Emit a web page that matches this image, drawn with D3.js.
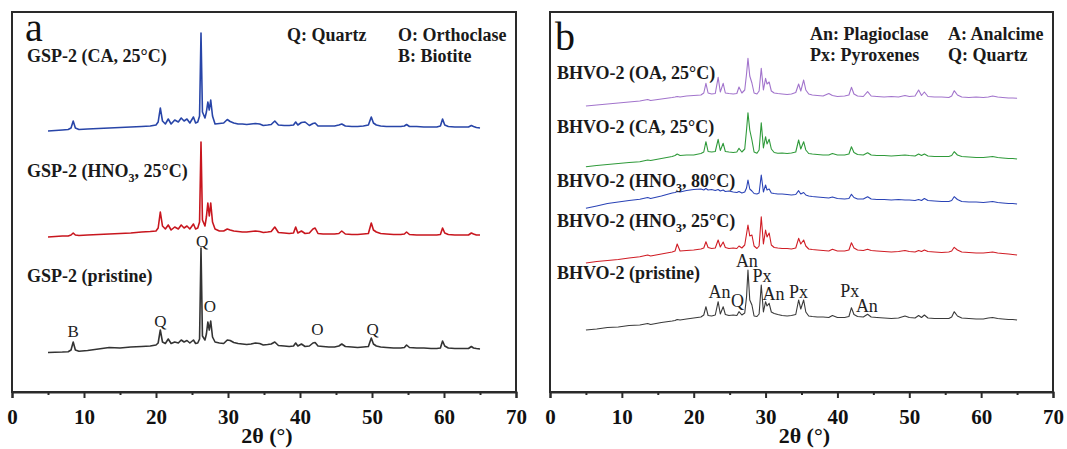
<!DOCTYPE html>
<html>
<head>
<meta charset="utf-8">
<script src="https://cdn.jsdelivr.net/npm/d3@7"></script>
<style>
body { margin: 0; background: #fff; }
svg text { font-family: "Liberation Serif", "Times New Roman", serif; }
</style>
</head>
<body>
<div id="container"></div>
<script>
// ---- data: panel a (GSP-2), intensities in a.u. incl. stacking offset ----
const thetaA = [
  5, 6, 7, 7.8, 8.2, 8.5, 8.8, 9.3, 10.5, 12,
  13.5, 15, 16.5, 18, 19.2, 20.0, 20.3, 20.6, 20.9, 21.3,
  21.7, 22.1, 22.6, 23.1, 23.5, 23.9, 24.3, 24.7, 25.2, 25.5,
  25.8, 26.05, 26.25, 26.45, 26.8, 27.0, 27.2, 27.4, 27.6, 27.85,
  28.2, 28.8, 29.4, 29.9, 30.3, 30.8, 31.4, 32.0, 32.6, 33.2,
  33.8, 34.4, 34.9, 35.5, 36.0, 36.5, 37.0, 37.8, 38.5, 39.1,
  39.4, 39.7, 40.2, 40.7, 41.3, 41.8, 42.1, 42.5, 43.2, 44.0,
  44.8, 45.4, 45.8, 46.3, 47.2, 48.0, 48.8, 49.5, 49.9, 50.2,
  50.6, 51.2, 52.0, 53.0, 54.0, 54.5, 54.8, 55.2, 56.2, 57.2,
  58.2, 59.0, 59.5, 59.8, 60.1, 60.6, 61.5, 62.5, 63.4, 63.8,
  64.1, 64.5, 65.0
];
const gspPristine = [
  39.5, 39.8, 40, 40.3, 42, 50, 42, 40.8, 41.5, 43,
  44.5, 44, 45, 45.5, 46, 47, 49, 62, 50, 48.5,
  53, 48.5, 50, 49, 52, 50, 51.5, 49, 52, 48.5,
  49, 53, 144, 56, 52, 58, 70, 62, 71, 55,
  50, 49, 48.5, 52, 51.5, 49.5, 48.5, 48, 47.5, 48,
  49, 48.5, 47, 47.5, 48, 50, 46.5, 46, 45.5, 46,
  49, 46, 48, 45.5, 46, 49, 49.5, 46, 45.5, 45,
  45, 46, 48, 45.5, 45, 44.5, 45, 45.5, 54, 48,
  46, 45, 44.5, 44, 44, 44.5, 47, 44.5, 44, 44,
  43.5, 43.5, 44, 51, 46, 44, 43.5, 43.5, 43.5, 45.5,
  44, 43.5, 43
];
const gspHNO3 = [
  155, 155.5, 156, 156, 157, 159, 157, 156.5, 157, 157.5,
  158, 158.5, 159, 160, 160.5, 161, 164, 180, 166, 163,
  167, 162, 165, 163, 167, 164, 166, 163, 168, 163,
  164, 170, 250, 172, 166, 175, 189, 176, 189, 170,
  163, 161, 161, 163, 162, 161, 160.5, 160, 160, 160.5,
  161, 160.5, 159.5, 160, 160.5, 165, 159.5, 159, 158.5, 159,
  165, 159, 161, 158.5, 159, 163, 164, 158.5, 158, 158,
  158, 158.5, 161, 158, 157.5, 157.5, 158, 158.5, 169, 162,
  160, 158.5, 158, 157.5, 157.5, 158, 160, 157.5, 157, 157,
  157, 157, 157.5, 164, 159, 157.5, 157, 157, 157, 159,
  158, 157, 157
];
const gspCA = [
  261, 261.5, 262, 262.5, 264, 271, 264, 262.5, 263, 263.5,
  264, 264.5, 265, 265.5, 266, 267, 270, 284, 271, 268,
  273, 268, 272, 270, 274, 271, 273, 269, 275, 269,
  270, 276, 359, 280, 274, 280, 290, 282, 292, 276,
  268, 268.5, 269, 272.5, 270.5, 269, 268, 268, 267.5, 268,
  268.5, 268, 266.5, 267, 267.5, 271, 267, 266.5, 266.5, 267,
  270, 267, 269.5, 270, 266.5, 268.5, 269, 266, 266, 266,
  266, 267, 268, 266, 265.5, 265.5, 266, 267, 275, 269,
  267, 266, 265.5, 265.5, 265.5, 266, 267.5, 265.5, 265.5, 265,
  265, 265, 266, 273, 267, 265.5, 265, 265, 265, 266.5,
  265.5, 264.5, 264
];

// ---- data: panel b (BHVO-2) ----
const thetaB = [
  5, 6.5, 8, 9.5, 11, 12.5, 13.6, 14, 15.5, 17,
  17.4, 17.7, 18.1, 19, 20, 21, 21.4, 21.7, 22.0, 22.5,
  23.0, 23.4, 23.7, 24.1, 24.4, 24.9, 25.5, 26.0, 26.3, 26.7,
  27.1, 27.35, 27.55, 27.8, 28.1, 28.4, 28.8, 29.1, 29.4, 29.7,
  30.0, 30.2, 30.5, 30.8, 31.2, 31.7, 32.3, 33.0, 33.6, 34.2,
  34.6, 34.9, 35.3, 35.6, 36.0, 36.5, 37.2, 38.0, 38.8, 39.3,
  40.0, 41.0, 41.6, 41.95, 42.3, 42.8, 43.6, 44.2, 44.7, 45.5,
  46.5, 47.5, 48.5, 49.4, 50.0, 50.8, 51.3, 51.7, 52.1, 52.6,
  53.5, 54.5, 55.5, 55.9, 56.25, 56.7, 57.3, 58.3, 59.3, 60.3,
  61.0, 61.6, 62.3, 63.0, 63.8, 64.4, 65.0
];
const bhvoPristine = [
  62, 63, 64.5, 65, 66.5, 67, 68.5, 67.5, 69.5, 71,
  71.5, 72.5, 72, 73, 74, 75, 77, 85.3, 76.5, 76,
  77, 90.3, 78, 85.3, 77.5, 76.5, 77, 76.5, 80.3, 77,
  79, 95, 122, 92, 87, 76, 75.5, 78, 107, 80,
  90.3, 86, 88.7, 80, 78.5, 77.5, 76.5, 76, 76.5, 77.5,
  92, 83, 92, 80, 76, 75.5, 75, 75, 74.5, 76.5,
  74.5, 74.5, 75.5, 84.3, 77.5, 75.5, 75, 77.7, 75, 74.5,
  74, 73.5, 74, 76, 74.5, 74, 76.5, 74.5, 77, 74,
  73.5, 73.5, 73.5, 75, 80.3, 76, 74, 73.5, 73, 73,
  74, 74.5, 73.5, 73, 72.5, 72.5, 72
];
const bhvoHNO3_25 = [
  129, 130.5, 131.5, 132.5, 134, 135.3, 137, 136, 138, 140,
  141, 148, 141, 141.5, 142, 143, 144, 150.3, 144.5, 143.5,
  144, 152, 145, 150, 144.5, 143.5, 144, 143.5, 146, 144,
  147, 158, 167, 156, 157, 146, 143.5, 146, 175.3, 148,
  162, 155, 159, 147, 144.5, 144, 143.5, 143.5, 143, 144,
  153.7, 148, 152, 146, 143, 142.5, 142, 141.5, 141, 142.7,
  141, 141, 142, 149.3, 144, 142, 141.5, 142.7, 141.5, 141,
  140.5, 140, 140.5, 141.5, 140.5, 140, 141.5, 140.5, 142, 140.5,
  140, 139.5, 140, 141, 144.7, 142, 140, 139.5, 139, 139,
  139.5, 140, 139, 138.5, 138, 137.5, 137
];
const bhvoHNO3_80 = [
  183.7, 186, 188.5, 190, 191.5, 192.7, 194.5, 193.5, 196, 199,
  199.5, 200.5, 200, 201.5, 202.5, 203, 202, 203.5, 202, 202.5,
  201.5, 202.5, 201, 202, 200.5, 201, 200, 199.5, 200.5, 199,
  200, 204, 212, 203, 201, 198.5, 198, 199, 217, 200,
  207, 202, 203, 199, 198.5, 198, 198, 197.5, 197, 197.5,
  201.3, 198, 199.5, 197, 196, 195.5, 195, 194.5, 194, 195,
  193.5, 193, 193.5, 197.7, 194.5, 193, 193, 195.3, 193, 192.5,
  192.5, 192, 192.5, 192, 192, 191.5, 192.5, 191.5, 193.5, 191.5,
  191, 190.5, 190.5, 191.5, 195.3, 192.5, 190.5, 190, 190, 189.5,
  190, 190.5, 189.5, 189, 188.5, 188.5, 188
];
const bhvoCA = [
  225.3, 226.5, 227.5, 228.5, 229.5, 230.3, 232, 231.5, 233.5, 235.5,
  236.5, 238, 236.5, 237, 237, 238.5, 240, 250.3, 240.5, 240,
  240.5, 252.7, 241.5, 248.7, 240.5, 240, 239.5, 240, 243.7, 240,
  243, 262, 279.3, 262, 252, 240, 238.7, 242, 269.3, 244,
  255.3, 248, 252.7, 243, 239.5, 238.7, 239, 238.5, 239, 240,
  252, 243, 250.3, 242, 238.5, 238, 237.5, 237, 237, 238.5,
  237, 237, 238, 245.3, 239.5, 237.5, 237, 239.3, 237, 236.5,
  236.5, 236, 236.5, 237, 236.5, 236, 238, 236.5, 238, 236,
  235.5, 235.5, 235.5, 236.5, 240.3, 237, 235.5, 235, 234.5, 234.5,
  235, 235.5, 234.5, 234, 233.5, 233.5, 233
];
const bhvoOA = [
  286, 287, 288, 289, 290, 291, 292.5, 291.5, 293, 294.5,
  295, 295.5, 295, 296, 296.5, 297, 299, 308.7, 299, 298,
  298.5, 314.7, 300, 308.7, 299, 298.5, 298, 298.5, 305, 299,
  302, 318, 333.7, 316, 309, 299, 298, 301, 323.7, 302,
  313.7, 308, 310, 301, 299, 298.5, 298, 297.5, 298, 299.5,
  308, 301, 312, 302, 298, 297, 296.5, 296, 298.5, 296.5,
  295.5, 296, 297, 304.7, 298, 296, 295.5, 300.3, 296, 295.5,
  295, 295.5, 295, 296.5, 295.5, 296, 302, 296.5, 300, 295.5,
  295, 295, 294.5, 296, 301.3, 297, 295, 294.5, 295, 294.5,
  295, 296, 295, 294.5, 294, 294, 293.7
];

const majorTicks = [0, 10, 20, 30, 40, 50, 60, 70];
const minorTicks = [5, 15, 25, 35, 45, 55, 65];

const W = 1067, H = 449;
const plotTop = 12, plotBottom = 392;

const svg = d3.select("#container").append("svg")
    .attr("width", W)
    .attr("height", H);

function drawPanel(p) {
  const x = d3.scaleLinear().domain([0, 70]).range([p.left, p.right]);
  const y = d3.scaleLinear().domain([0, 380]).range([plotBottom, plotTop]);
  const g = svg.append("g");

  // curves
  p.series.forEach(s => {
    if (s.values.length !== p.theta.length) console.error("length mismatch", s.name);
    const line = d3.line()
        .x((d, i) => x(p.theta[i]))
        .y(d => y(d));
    g.append("path")
        .attr("d", line(s.values))
        .attr("fill", "none")
        .attr("stroke", s.color)
        .attr("stroke-width", p.lineWidth)
        .attr("stroke-linejoin", "round");
  });

  // frame
  g.append("rect")
      .attr("x", p.left).attr("y", plotTop)
      .attr("width", p.right - p.left).attr("height", plotBottom - plotTop)
      .attr("fill", "none").attr("stroke", "#2a2a2a").attr("stroke-width", 2);

  // axes
  const ax = g.append("g")
      .attr("transform", "translate(0," + plotBottom + ")")
      .call(d3.axisBottom(x).tickValues(majorTicks).tickSize(6).tickPadding(11).tickFormat(d3.format("d")));
  ax.select(".domain").attr("stroke", "#2a2a2a").attr("stroke-width", 2);
  ax.selectAll(".tick line").attr("stroke", "#2a2a2a").attr("stroke-width", 2);
  ax.selectAll(".tick text")
      .attr("fill", "#111")
      .style("font-size", "21px")
      .style("font-weight", "bold")
      .style("font-family", "'Liberation Serif', serif");

  const mx = g.append("g")
      .attr("transform", "translate(0," + plotBottom + ")")
      .call(d3.axisBottom(x).tickValues(minorTicks).tickSize(3).tickFormat(""));
  mx.select(".domain").remove();
  mx.selectAll(".tick line").attr("stroke", "#2a2a2a").attr("stroke-width", 2);

  g.append("text")
      .attr("x", x(35.4)).attr("y", 443)
      .attr("text-anchor", "middle")
      .style("font-size", "22px").style("font-weight", "bold")
      .attr("fill", "#111")
      .text("2θ (°)");

  // panel letter
  g.append("text")
      .attr("x", x(p.letterPos[0])).attr("y", y(p.letterPos[1]))
      .style("font-size", "40px")
      .attr("fill", "#111")
      .text(p.letter);

  // legend
  p.legend.forEach(l => {
    g.append("text")
        .attr("x", x(l.at[0])).attr("y", y(l.at[1]))
        .style("font-size", "18px").style("font-weight", "bold")
        .attr("fill", "#1a1a1a")
        .text(l.text);
  });

  // series names
  p.series.forEach(s => {
    const t = g.append("text")
        .attr("x", x(s.labelAt[0])).attr("y", y(s.labelAt[1]))
        .style("font-size", "18px").style("font-weight", "bold")
        .attr("fill", "#1a1a1a");
    const parts = s.name.split("_");
    if (parts.length === 1) {
      t.text(s.name);
    } else {
      t.append("tspan").text(parts[0]);
      t.append("tspan").text(parts[1]).attr("dy", 5).style("font-size", "12px");
      t.append("tspan").text(parts[2]).attr("dy", -5);
    }
  });

  // phase markers
  p.peaks.forEach(k => {
    g.append("text")
        .attr("x", x(k.at[0])).attr("y", y(k.at[1]))
        .attr("text-anchor", "middle")
        .style("font-size", p.peakFont)
        .attr("fill", "#222")
        .text(k.text);
  });
}

drawPanel({
  left: 12, right: 516, theta: thetaA, lineWidth: 1.6, peakFont: "17px",
  letter: "a", letterPos: [1.8, 351],
  series: [
    { name: "GSP-2 (pristine)", values: gspPristine, color: "#333333", labelAt: [2.1, 110] },
    { name: "GSP-2 (HNO_3_, 25°C)", values: gspHNO3, color: "#c8161e", labelAt: [2.1, 215] },
    { name: "GSP-2 (CA, 25°C)", values: gspCA, color: "#2845a8", labelAt: [2.1, 330] }
  ],
  legend: [
    { text: "Q: Quartz", at: [38.2, 351] },
    { text: "O: Orthoclase", at: [53.6, 351] },
    { text: "B: Biotite", at: [53.6, 330] }
  ],
  peaks: [
    { text: "B", at: [8.5, 55] },
    { text: "Q", at: [20.6, 65] },
    { text: "Q", at: [26.4, 145] },
    { text: "O", at: [27.5, 80] },
    { text: "O", at: [42.4, 57] },
    { text: "Q", at: [50.1, 57] }
  ]
});

drawPanel({
  left: 550, right: 1053, theta: thetaB, lineWidth: 1.1, peakFont: "18px",
  letter: "b", letterPos: [0.7, 342],
  series: [
    { name: "BHVO-2 (pristine)", values: bhvoPristine, color: "#3a3a3a", labelAt: [0.97, 113] },
    { name: "BHVO-2 (HNO_3_, 25°C)", values: bhvoHNO3_25, color: "#d01d25", labelAt: [0.97, 165] },
    { name: "BHVO-2 (HNO_3_, 80°C)", values: bhvoHNO3_80, color: "#2a43b6", labelAt: [0.97, 205] },
    { name: "BHVO-2 (CA, 25°C)", values: bhvoCA, color: "#2f9a3a", labelAt: [0.97, 259] },
    { name: "BHVO-2 (OA, 25°C)", values: bhvoOA, color: "#a274cc", labelAt: [0.97, 313] }
  ],
  legend: [
    { text: "An: Plagioclase", at: [36.2, 352] },
    { text: "A: Analcime", at: [55.4, 352] },
    { text: "Px: Pyroxenes", at: [36.2, 331] },
    { text: "Q: Quartz", at: [55.4, 331] }
  ],
  peaks: [
    { text: "An", at: [27.4, 125] },
    { text: "Px", at: [29.5, 110] },
    { text: "An", at: [23.6, 94] },
    { text: "Q", at: [26.1, 85] },
    { text: "An", at: [31.1, 92] },
    { text: "Px", at: [34.6, 94] },
    { text: "Px", at: [41.7, 95] },
    { text: "An", at: [44.1, 80] }
  ]
});
</script>
</body>
</html>
